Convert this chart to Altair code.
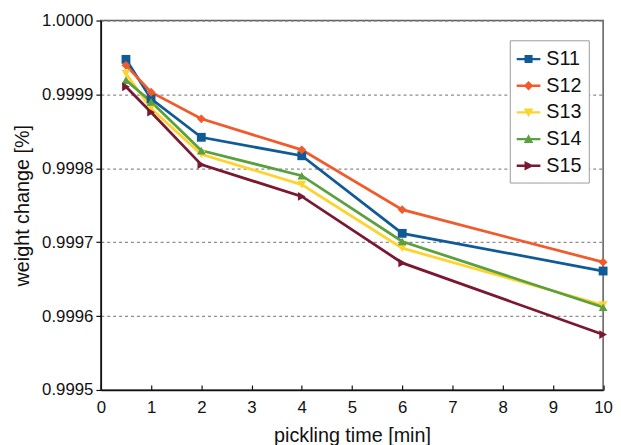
import altair as alt
import pandas as pd

times = [0.5, 1, 2, 4, 6, 10]
series = ["S11", "S12", "S13", "S14", "S15"]
S11 = [0.9999475, 0.999894, 0.999842, 0.999817, 0.999712, 0.999661]
S12 = [0.9999394, 0.999903, 0.999867, 0.999825, 0.999744, 0.999673]
S13 = [0.9999282, 0.999881, 0.999819, 0.999778, 0.999692, 0.999615]
S14 = [0.9999194, 0.999890, 0.999824, 0.999790, 0.999701, 0.999612]
S15 = [0.9999104, 0.999876, 0.999805, 0.999762, 0.999672, 0.999575]
colors = ["#105a96", "#f15a2a", "#fdd32e", "#5aa03e", "#7a1731"]
shapes = ["square", "diamond", "triangle-down", "triangle-up", "triangle-right"]
x_ticks = list(range(0, 11))
y_ticks = [0.9995, 0.9996, 0.9997, 0.9998, 0.9999, 1.0]

rows = []
for name, vals in zip(series, [S11, S12, S13, S14, S15]):
    for t, v in zip(times, vals):
        rows.append({"time": t, "value": v, "series": name})
df = pd.DataFrame(rows)

# legend symbols: a line with the marker on it (custom paths in [-1,1] box)
line_path = "M-1,-0.1H1V0.1H-1Z"
marker_paths = [
    "M-0.34,-0.34H0.34V0.34H-0.34Z",
    "M0,-0.4L0.4,0L0,0.4L-0.4,0Z",
    "M-0.4,-0.34L0.4,-0.34L0,0.4Z",
    "M-0.4,0.34L0,-0.4L0.4,0.34Z",
    "M-0.34,-0.4L0.46,0L-0.34,0.4Z",
]
legend_shapes = [line_path + mp for mp in marker_paths]

FONT = "Liberation Sans"

x_scale = alt.Scale(domain=[0, 10], nice=False)
y_scale = alt.Scale(domain=[0.9995, 1.0], nice=False, zero=False)

x_enc = alt.X(
    "time:Q", scale=x_scale,
    axis=alt.Axis(
        values=x_ticks, ticks=False, title="pickling time [min]", grid=False,
        labelPadding=10, titlePadding=10, format="d", labelFlush=False,
    ),
)
y_enc = alt.Y(
    "value:Q", scale=y_scale,
    axis=alt.Axis(
        values=y_ticks, format=".4f", title="weight change [%]",
        tickSize=5, labelPadding=3, titlePadding=9, labelFlush=False,
        grid=True, gridDash=[3, 3], gridColor="#8c8c8c", gridWidth=1.2,
    ),
)
x_plain = alt.X("time:Q", scale=x_scale, axis=None)

lines = alt.Chart(df).mark_line(strokeWidth=2.8).encode(
    x=x_enc, y=y_enc,
    color=alt.Color("series:N", scale=alt.Scale(domain=series, range=colors), legend=None),
)

points = alt.Chart(df).mark_point(filled=True, opacity=1, size=80).encode(
    x=x_plain, y=y_enc,
    color=alt.Color("series:N", scale=alt.Scale(domain=series, range=colors), legend=None),
    shape=alt.Shape("series:N", scale=alt.Scale(domain=series, range=shapes), legend=None),
)

legend_props = dict(
    title=None, orient="none", legendX=414, legendY=20,
    labelFontSize=20, labelFont=FONT, labelColor="#111",
    symbolSize=576, rowPadding=5, labelOffset=6,
    padding=7, strokeColor="#9a9a9a", fillColor="white",
    symbolStrokeWidth=0, symbolOpacity=1,
)

legend_layer = alt.Chart(df).transform_filter("false").mark_point(filled=True, opacity=1).encode(
    x=x_plain, y=y_enc,
    color=alt.Color("series:N", scale=alt.Scale(domain=series, range=colors),
                    legend=alt.Legend(**legend_props)),
    shape=alt.Shape("series:N", scale=alt.Scale(domain=series, range=legend_shapes),
                    legend=alt.Legend(**legend_props)),
)

tick_df = pd.DataFrame({"t": x_ticks})
inner_ticks = alt.Chart(tick_df).mark_point(opacity=0).encode(
    x=alt.X(
        "t:Q", scale=x_scale,
        axis=alt.Axis(
            orient="bottom", offset=-5, values=x_ticks, labels=False, domain=False,
            ticks=True, tickSize=5, title=None, grid=False,
        ),
    ),
)

chart = (
    alt.layer(lines, points, legend_layer, inner_ticks)
    .resolve_axis(x="independent")
    .resolve_scale(color="independent", shape="independent")
    .properties(
        width=508.5, height=374,
        autosize=alt.AutoSizeParams(type="none"),
        padding={"left": 94, "top": 10, "right": 10, "bottom": 53},
    )
    .configure_view(stroke="#5a5a5a", strokeWidth=1.5)
    .configure_axis(
        labelFont=FONT, titleFont=FONT, labelFontSize=17, titleFontSize=20,
        labelColor="#111", titleColor="#111", titleFontWeight="normal",
        domainColor="#111", domainWidth=1.5, tickColor="#111", tickWidth=1.2,
    )
)

chart.save("out.html", embed_options={"renderer": "svg", "actions": False})
